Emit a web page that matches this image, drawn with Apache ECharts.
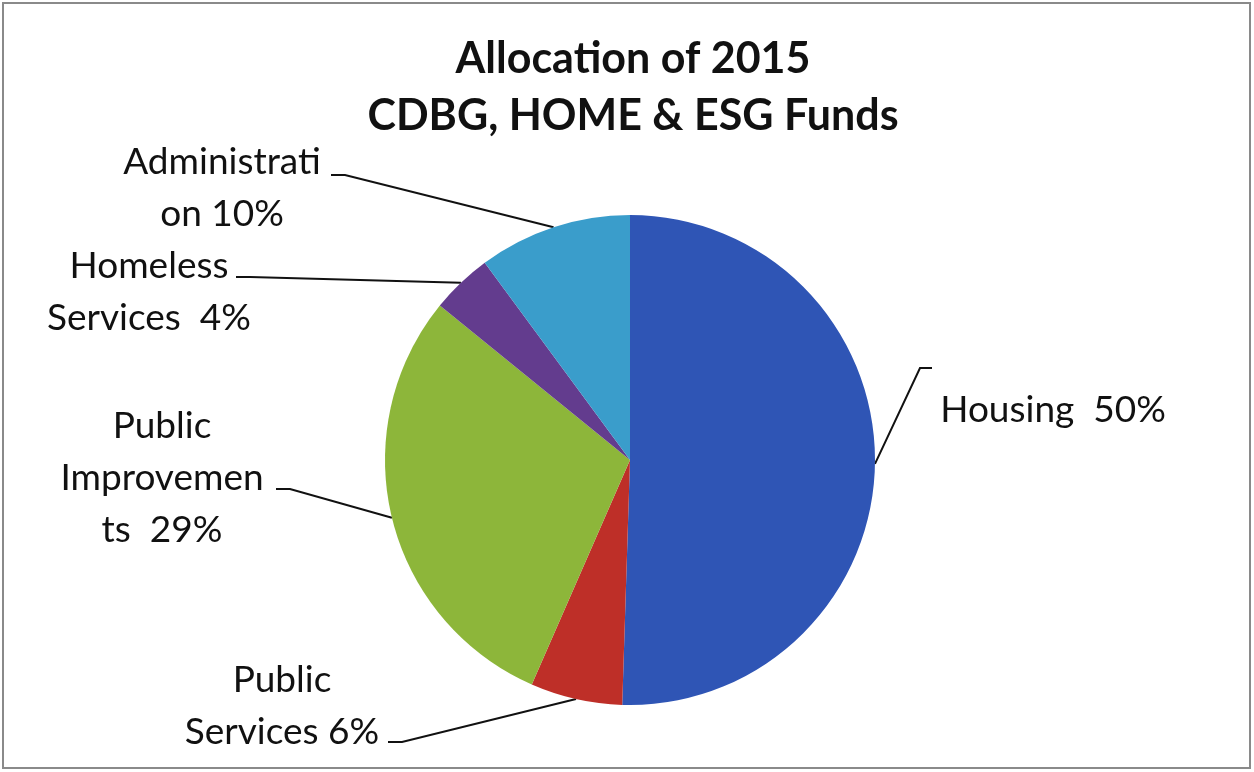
<!DOCTYPE html>
<html>
<head>
<meta charset="utf-8">
<style>
html, body { margin: 0; padding: 0; background: #fff; }
#main { width: 1254px; height: 772px; }
</style>
<script src="https://cdn.jsdelivr.net/npm/echarts@6/dist/echarts.min.js"></script>
</head>
<body>
<div id="main"></div>
<script>
// slices, clockwise from 12 o'clock
var categories = ['Housing', 'Public Services', 'Public Improvements', 'Homeless Services', 'Administration'];
var values = [50, 6, 29, 4, 10];
var labelTexts = ['Housing  50%', 'Public\nServices 6%', 'Public\nImprovemen\nts  29%', 'Homeless\nServices  4%', 'Administrati\non 10%'];
var colors = ['#2F55B5', '#BE2F28', '#8DB63A', '#633C8E', '#3A9DCB'];

var myChart = echarts.init(document.getElementById('main'));

// label block centre, then where its leader line ends (and an elbow)
var labelSpots = [
    { x: 1053, y: 410, end: [932, 368], elbow: [920, 368] },
    { x: 282, y: 706, end: [388, 742], elbow: [402, 742] },
    { x: 162, y: 478, end: [276, 489], elbow: [290, 489] },
    { x: 149, y: 292, end: [236, 277], elbow: [250, 277] },
    { x: 222, y: 188, end: [331, 175], elbow: [345, 175] }
];

var option =
{
    animation: false,
    title:
    {
        text: 'Allocation of 2015\nCDBG, HOME & ESG Funds',
        left: 628,
        top: 26,
        textAlign: 'center',
        textStyle:
        {
            fontFamily: 'Lato',
            fontWeight: 'bold',
            fontSize: 43,
            lineHeight: 57,
            color: '#111'
        }
    },
    graphic:
    [
        {
            type: 'rect',
            shape: { x: 3, y: 3, width: 1247, height: 765 },
            style: { fill: 'none', stroke: '#8a8a8a', lineWidth: 2 }
        }
    ],
    series:
    [
        {
            type: 'pie',
            center: [630, 460],
            radius: 245,
            startAngle: 90,
            clockwise: true,
            data: categories.map(function (c, i)
            {
                return { name: c, value: values[i], itemStyle: { color: colors[i] } };
            }),
            label:
            {
                show: true,
                formatter: function (p) { return labelTexts[p.dataIndex]; },
                fontFamily: 'Lato',
                fontSize: 37,
                lineHeight: 52,
                color: '#111',
                align: 'center'
            },
            labelLine:
            {
                show: true,
                lineStyle: { color: '#111', width: 2 }
            },
            labelLayout: function (p)
            {
                var s = labelSpots[p.dataIndex];
                var start = p.labelLinePoints ? p.labelLinePoints[0] : null;
                var res = {
                    x: s.x,
                    y: s.y,
                    align: 'center',
                    verticalAlign: 'middle'
                };
                if (start)
                {
                    res.labelLinePoints = [start, s.elbow, s.end];
                }
                return res;
            },
            emphasis: { disabled: true }
        }
    ]
};

myChart.setOption(option);
</script>
</body>
</html>
